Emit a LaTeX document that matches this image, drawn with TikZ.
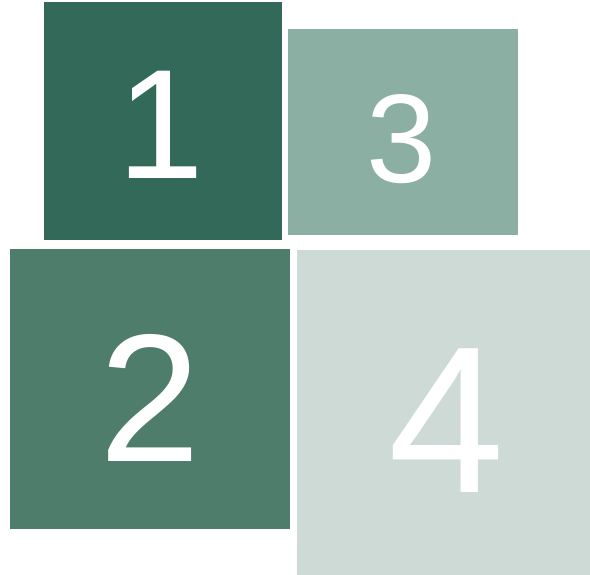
\documentclass[tikz,border=0pt]{standalone}
\usepackage{fontspec}
\setmainfont{Liberation Sans}
\definecolor{cone}{HTML}{326958}
\definecolor{cthree}{HTML}{8CAFA3}
\definecolor{ctwo}{HTML}{4E7D6C}
\definecolor{cfour}{HTML}{CDDAD6}
\begin{document}
\begin{tikzpicture}[x=1pt,y=-1pt,
  tile/.style={draw=none,inner sep=0pt,outer sep=0pt},
  digit/.style={text=white,anchor=base,inner sep=0pt}]
\useasboundingbox (0,0) rectangle (590,575);
\fill[white] (0,0) rectangle (590,575);
\fill[cone] (44,2) rectangle (282,240) coordinate (b1);
\fill[cthree] (288,29) rectangle (518,235);
\fill[ctwo] (10,249) rectangle (290,529);
\fill[cfour] (297,250) rectangle (590,575);
\node[digit,font=\fontsize{156pt}{156pt}\selectfont] (t1) at (161,179) {1};
\node[digit,font=\fontsize{126pt}{126pt}\selectfont] (t3) at (402,183) {3};
\node[digit,font=\fontsize{182pt}{182pt}\selectfont] (t2) at (150,461) {2};
\node[digit,font=\fontsize{209pt}{209pt}\selectfont] (t4) at (447,492) {4};
\end{tikzpicture}
\end{document}
